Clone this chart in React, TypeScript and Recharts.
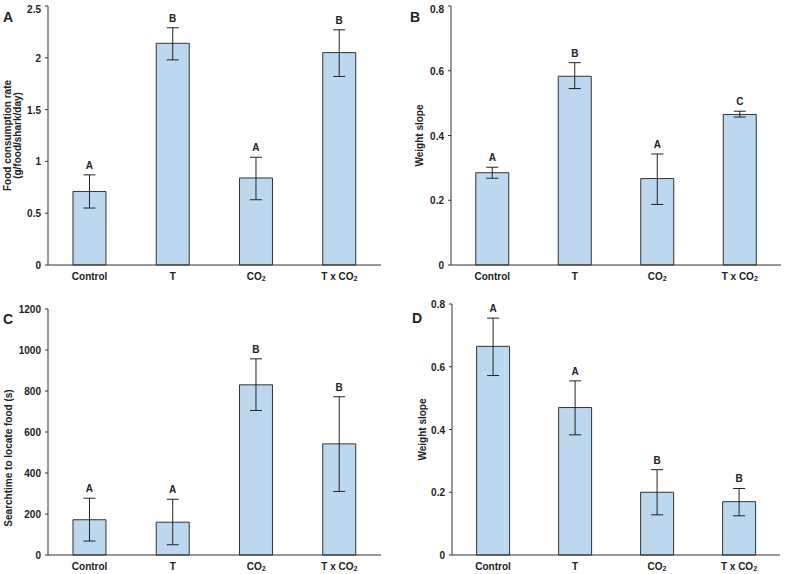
import React from 'react';
import { BarChart, Bar, XAxis, YAxis, ErrorBar, LabelList } from 'recharts';

// treatment groups, shared by all four panels
const categories = ['Control', 'T', 'CO2', 'T x CO2'];

// A: food consumption rate
const foodMean = [0.71, 2.14, 0.84, 2.05];
const foodLow = [0.55, 1.98, 0.63, 1.82];
const foodHigh = [0.87, 2.29, 1.04, 2.27];
const foodLetters = ['A', 'B', 'A', 'B'];
const foodTicks = [0, 0.5, 1, 1.5, 2, 2.5];

// B: weight slope
const slopeBMean = [0.285, 0.583, 0.267, 0.465];
const slopeBLow = [0.268, 0.545, 0.187, 0.457];
const slopeBHigh = [0.302, 0.625, 0.343, 0.475];
const slopeBLetters = ['A', 'B', 'A', 'C'];

// C: search time to locate food
const searchMean = [172, 160, 830, 542];
const searchLow = [68, 50, 705, 310];
const searchHigh = [277, 272, 957, 772];
const searchLetters = ['A', 'A', 'B', 'B'];
const searchTicks = [0, 200, 400, 600, 800, 1000, 1200];

// D: weight slope
const slopeDMean = [0.665, 0.47, 0.2, 0.17];
const slopeDLow = [0.572, 0.383, 0.128, 0.125];
const slopeDHigh = [0.755, 0.555, 0.272, 0.212];
const slopeDLetters = ['A', 'A', 'B', 'B'];

const slopeTicks = [0, 0.2, 0.4, 0.6, 0.8];

const FONT = '"Liberation Sans", Arial, sans-serif';
const INK = '#222';
const BAR_FILL = '#bdd7ee';

type Row = { name: string; mean: number; err: [number, number]; letter: string };

function buildRows(mean: number[], low: number[], high: number[], letters: string[]): Row[] {
  return categories.map((name, i) => ({
    name,
    mean: mean[i],
    err: [mean[i] - low[i], high[i] - mean[i]],
    letter: letters[i],
  }));
}

/* eslint-disable @typescript-eslint/no-explicit-any */
function XTick({ x, y, payload }: any) {
  const text = String(payload?.value ?? '');
  const hasCO2 = text.endsWith('CO2');
  return (
    <text x={x} y={y} dy={7} textAnchor="middle" fill={INK} fontSize={10} fontWeight="bold" fontFamily={FONT}>
      {hasCO2 ? (
        <>
          {text.slice(0, -1)}
          <tspan fontSize={7} dy={1}>2</tspan>
        </>
      ) : (
        text
      )}
    </text>
  );
}

function YTick({ x, y, payload }: any) {
  return (
    <text x={x} y={y} dx={-2} dy={4} textAnchor="end" fill={INK} fontSize={10} fontWeight="bold" fontFamily={FONT}>
      {String(payload?.value)}
    </text>
  );
}
/* eslint-enable @typescript-eslint/no-explicit-any */

interface PanelProps {
  tag: string;
  rows: Row[];
  ticks: number[];
  yLabel: string[];
  left: number;
  top: number;
  width: number;
  height: number;
  margin: { top: number; right: number; left: number; bottom: number };
  yWidth: number;
  xHeight: number;
  labelX: number[];
  labelDy?: number;
  tagPos: [number, number];
}

function Panel(p: PanelProps) {
  const max = p.ticks[p.ticks.length - 1];
  // eslint-disable-next-line @typescript-eslint/no-explicit-any
  const letterLabel = (props: any) => {
    const { x, y, width, height, index } = props;
    const row = p.rows[index];
    const top = y - (row.err[1] / row.mean) * height;
    return (
      <text x={x + width / 2} y={top - 6} textAnchor="middle" fill={INK} fontSize={10} fontWeight="bold" fontFamily={FONT}>
        {row.letter}
      </text>
    );
  };
  // eslint-disable-next-line @typescript-eslint/no-explicit-any
  const axisLabel = (props: any) => {
    const vb = props.viewBox;
    const cy = vb.y + vb.height / 2 + (p.labelDy ?? 0);
    return (
      <g>
        {p.yLabel.map((line, i) => (
          <text
            key={i}
            x={p.labelX[i]}
            y={cy}
            transform={`rotate(-90 ${p.labelX[i]} ${cy})`}
            textAnchor="middle"
            dominantBaseline="central"
            fill={INK}
            fontSize={10}
            fontWeight="bold"
            fontFamily={FONT}
          >
            {line}
          </text>
        ))}
      </g>
    );
  };
  return (
    <div style={{ position: 'absolute', left: p.left, top: p.top, width: p.width, height: p.height }}>
      <BarChart width={p.width} height={p.height} data={p.rows} margin={p.margin} barCategoryGap="30%">
        <XAxis
          dataKey="name"
          tick={<XTick />}
          tickLine={false}
          axisLine={{ stroke: '#333' }}
          height={p.xHeight}
          interval={0}
        />
        <YAxis
          type="number"
          domain={[0, max]}
          ticks={p.ticks}
          width={p.yWidth}
          tick={<YTick />}
          tickSize={3}
          tickLine={{ stroke: '#333' }}
          axisLine={{ stroke: '#333' }}
          label={{ content: axisLabel }}
        />
        <Bar dataKey="mean" fill={BAR_FILL} stroke="#333" strokeWidth={1} isAnimationActive={false}>
          <ErrorBar dataKey="err" width={6} stroke={INK} strokeWidth={1} direction="y" />
          <LabelList dataKey="letter" content={letterLabel} />
        </Bar>
      </BarChart>
      <div
        style={{
          position: 'absolute',
          left: p.tagPos[0],
          top: p.tagPos[1],
          fontFamily: FONT,
          fontWeight: 'bold',
          fontSize: 14,
          color: INK,
          lineHeight: '14px',
        }}
      >
        {p.tag}
      </div>
    </div>
  );
}

export default function App() {
  return (
    <div style={{ position: 'fixed', left: 0, top: 0, width: 787, height: 574, background: '#fff', overflow: 'hidden' }}>
      <Panel
        tag="A"
        rows={buildRows(foodMean, foodLow, foodHigh, foodLetters)}
        ticks={foodTicks}
        yLabel={['Food  consumption rate', '(g/food/shark/day)']}
        left={0}
        top={0}
        width={392}
        height={290}
        margin={{ top: 6, right: 11, left: 0, bottom: 0 }}
        yWidth={48}
        xHeight={25}
        labelX={[7, 17]}
        tagPos={[3, 10]}
      />
      <Panel
        tag="B"
        rows={buildRows(slopeBMean, slopeBLow, slopeBHigh, slopeBLetters)}
        ticks={slopeTicks}
        yLabel={['Weight slope']}
        left={400}
        top={0}
        width={387}
        height={290}
        margin={{ top: 6, right: 6, left: 0, bottom: 0 }}
        yWidth={51}
        xHeight={25}
        labelX={[19]}
        tagPos={[10, 10]}
      />
      <Panel
        tag="C"
        rows={buildRows(searchMean, searchLow, searchHigh, searchLetters)}
        ticks={searchTicks}
        yLabel={['Searchtime to locate food (s)']}
        left={0}
        top={290}
        width={392}
        height={284}
        margin={{ top: 19, right: 11, left: 0, bottom: 0 }}
        yWidth={48}
        xHeight={19}
        labelX={[8]}
        labelDy={26}
        tagPos={[3, 22]}
      />
      <Panel
        tag="D"
        rows={buildRows(slopeDMean, slopeDLow, slopeDHigh, slopeDLetters)}
        ticks={slopeTicks}
        yLabel={['Weight slope']}
        left={400}
        top={290}
        width={387}
        height={284}
        margin={{ top: 14, right: 7, left: 0, bottom: 0 }}
        yWidth={52}
        xHeight={19}
        labelX={[22]}
        tagPos={[12, 21]}
      />
    </div>
  );
}
